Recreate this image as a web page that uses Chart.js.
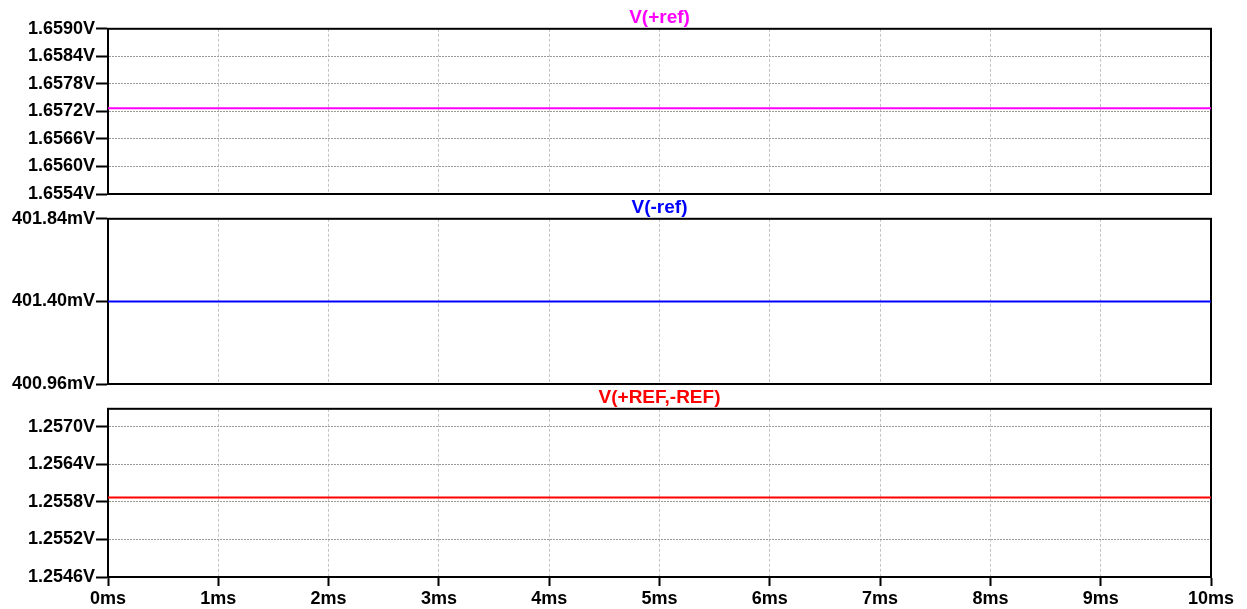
<!DOCTYPE html>
<html>
<head>
<meta charset="utf-8">
<script src="https://cdn.jsdelivr.net/npm/chart.js@4/dist/chart.umd.min.js"></script>
<style>
  body { margin: 0; background: #fff; overflow: hidden; }
  #wrap { position: relative; width: 1247px; height: 609px; overflow: hidden; }
  .pane { position: absolute; left: 0; width: 1247px; }
</style>
</head>
<body>
<div id="wrap">
  <div class="pane" style="top:0px;height:206px"><canvas id="plusRef"></canvas></div>
  <div class="pane" style="top:190px;height:206px"><canvas id="minusRef"></canvas></div>
  <div class="pane" style="top:380px;height:233px"><canvas id="diffRef"></canvas></div>
</div>
<script>
// time axis (ms)
const timeMs = [0, 1, 2, 3, 4, 5, 6, 7, 8, 9, 10];

// series values (V)
const plusRef = [1.65727, 1.65727, 1.65727, 1.65727, 1.65727, 1.65727, 1.65727, 1.65727, 1.65727, 1.65727, 1.65727];
const minusRef = [0.40140, 0.40140, 0.40140, 0.40140, 0.40140, 0.40140, 0.40140, 0.40140, 0.40140, 0.40140, 0.40140];
const diffRef = [1.25587, 1.25587, 1.25587, 1.25587, 1.25587, 1.25587, 1.25587, 1.25587, 1.25587, 1.25587, 1.25587];

// y tick values (V)
const plusTicks = [1.6554, 1.6560, 1.6566, 1.6572, 1.6578, 1.6584, 1.6590];
const minusTicks = [0.40096, 0.40140, 0.40184];
const diffTicks = [1.2546, 1.2552, 1.2558, 1.2564, 1.2570];
const diffTop = 1.25729;

const FONT = { family: "'Liberation Sans', Arial, sans-serif", size: 18, weight: 'bold', lineHeight: 1 };

const frame = {
  id: 'frame',
  beforeDatasetsDraw(chart) {
    const { ctx, chartArea: a } = chart;
    ctx.save();
    ctx.strokeStyle = '#000';
    ctx.lineWidth = 2;
    ctx.strokeRect(a.left, a.top, a.right - a.left, a.bottom - a.top);
    ctx.restore();
  }
};

function makePane(id, title, color, values, yTicks, yMin, yMax, fmt, showX, hGrid) {
  new Chart(document.getElementById(id), {
    type: 'line',
    data: {
      datasets: [{
        data: timeMs.map((t, i) => ({ x: t, y: values[i] })),
        borderColor: color,
        borderWidth: 2,
        pointRadius: 0,
        tension: 0
      }]
    },
    options: {
      responsive: true,
      maintainAspectRatio: false,
      animation: false,
      layout: { padding: { left: 0, right: 36, top: 0, bottom: showX ? 1 : 12 } },
      plugins: {
        legend: { display: false },
        tooltip: { enabled: false },
        title: {
          display: true,
          text: title,
          color: color,
          fullSize: false,
          font: { family: FONT.family, size: 19, weight: 'bold', lineHeight: 1.2 },
          padding: { top: 6, bottom: 0 }
        }
      },
      scales: {
        x: {
          type: 'linear',
          min: 0,
          max: 10,
          afterBuildTicks: s => { s.ticks = timeMs.map(v => ({ value: v })); },
          ticks: {
            display: showX,
            color: '#000',
            font: FONT,
            padding: 4,
            maxRotation: 0,
            autoSkip: false,
            callback: v => v + 'ms'
          },
          grid: {
            color: '#c4c4c4',
            drawTicks: showX,
            tickLength: 9,
            tickColor: '#000',
            tickWidth: 2,
            tickBorderDash: [1, 0]
          },
          border: { color: '#000', width: 2, dash: [3, 2] }
        },
        y: {
          type: 'linear',
          min: yMin,
          max: yMax,
          afterBuildTicks: s => { s.ticks = yTicks.map(v => ({ value: v })); },
          afterFit: s => { s.width = 108; },
          ticks: {
            color: '#000',
            font: FONT,
            padding: 1,
            autoSkip: false,
            callback: fmt
          },
          grid: {
            color: hGrid ? '#9a9a9a' : 'rgba(0,0,0,0)',
            tickLength: 12,
            tickColor: '#000',
            tickWidth: 2,
            tickBorderDash: [1, 0]
          },
          border: { color: '#000', width: 2, dash: [2, 1] }
        }
      }
    },
    plugins: [frame]
  });
}

makePane('plusRef', 'V(+ref)', '#ff00ff', plusRef, plusTicks, 1.6554, 1.6590,
  v => v.toFixed(4) + 'V', false, true);
makePane('minusRef', 'V(-ref)', '#0000ff', minusRef, minusTicks, 0.40096, 0.40184,
  v => (v * 1000).toFixed(2) + 'mV', false, false);
makePane('diffRef', 'V(+REF,-REF)', '#ff0000', diffRef, diffTicks, 1.2546, diffTop,
  v => v.toFixed(4) + 'V', true, true);
</script>
</body>
</html>
